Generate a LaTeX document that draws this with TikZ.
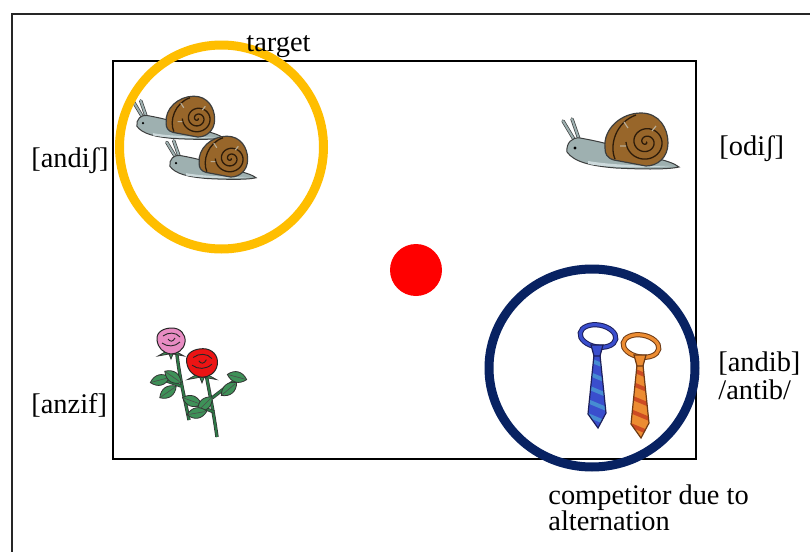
\documentclass[tikz,border=0pt]{standalone}
\usepackage{fontspec}
\setmainfont{Liberation Serif}
\definecolor{ringyellow}{RGB}{255,190,0}
\definecolor{ringnavy}{RGB}{8,34,98}
\definecolor{dotred}{RGB}{255,0,0}
\definecolor{snailbody}{RGB}{158,176,176}
\definecolor{snaillight}{RGB}{205,218,220}
\definecolor{snailout}{RGB}{60,62,62}
\definecolor{shellbrown}{RGB}{152,102,42}
\definecolor{shelldark}{RGB}{45,28,10}
\definecolor{tieblue}{RGB}{58,78,205}
\definecolor{tieblues}{RGB}{70,140,210}
\definecolor{tieblueo}{RGB}{28,30,90}
\definecolor{tieorange}{RGB}{236,140,50}
\definecolor{tieoranges}{RGB}{205,75,35}
\definecolor{tieorangeo}{RGB}{110,58,20}
\definecolor{stemg}{RGB}{45,120,70}
\definecolor{leafg}{RGB}{62,145,88}
\definecolor{rosepink}{RGB}{232,140,195}
\definecolor{rosered}{RGB}{236,20,20}
\tikzset{
  lbl/.style={anchor=base west, inner sep=0pt},
  frameline/.style={line width=0.75pt, black!85},
  ring/.style={line width=4.5pt},
  stemline/.style={line width=1pt, stemg, preaction={draw=black!80, line width=1.7pt}},
  leafstyle/.style={fill=leafg, draw=black!80, line width=0.4pt},
  pics/snail/.style={code={
    \draw[line width=1.7pt, snailout, line cap=round] (-57,-1) -- (-64,-21) (-61,1) -- (-73,-19);
    \draw[line width=1.0pt, snailbody, line cap=round] (-57,-1) -- (-64,-21) (-61,1) -- (-73,-19);
    \filldraw[fill=snailbody, draw=snailout, line width=0.5pt]
      (-69,12) .. controls (-70,3) and (-64,-3) .. (-56,-2)
      .. controls (-45,0) and (-35,2) .. (-25,5) -- (20,18)
      .. controls (30,21) and (38,23) .. (43,27)
      .. controls (30,30) and (0,29) .. (-20,28)
      .. controls (-45,26) and (-62,22) .. (-69,12) -- cycle;
    \fill[snaillight] (-48,21) .. controls (-25,25) and (10,26) .. (36,26)
      .. controls (10,28) and (-25,28) .. (-48,24) -- cycle;
    \fill[black] (-61,8) circle (1.6);
    \filldraw[fill=shellbrown, draw=snailout, line width=0.6pt]
      (-31,8) .. controls (-33,-11) and (-15,-27) .. (5,-27)
      .. controls (23,-27) and (32,-12) .. (32,3)
      .. controls (32,18) and (21,26) .. (10,26) -- (-22,20)
      .. controls (-29,18) and (-31,14) .. (-31,8) -- cycle;
    \draw[shelldark, line width=0.65pt] plot[domain=0:900, samples=90, variable=\t]
      ({10+(\t/900)*20*cos(\t)}, {2+(\t/900)*19*sin(\t)});
    \draw[shelldark, line width=0.65pt] (-21,19) .. controls (-27,5) and (-20,-18) .. (0,-25);
    \draw[snaillight!60!shellbrown, line width=0.6pt] (-12,-18) -- (-8,-12) (20,-14) -- (16,-9) (-16,6) -- (-10,6);
  }},
  pics/tie/.style n args={3}{code={
    \draw[line width=2.6pt, #3, rotate around={-10:(1,-14)}] (1,-14) ellipse (18 and 11);
    \draw[line width=1.6pt, #1, rotate around={-10:(1,-14)}] (1,-14) ellipse (18 and 11);
    \begin{scope}
      \clip (-3,5) -- (3,5) -- (9,63) -- (1,78) -- (-9,64) -- cycle;
      \fill[#1] (-12,0) rectangle (12,80);
      \foreach \s in {8,22,36,50,64} \draw[#2, line width=2pt] (-12,\s) -- (12,\s+10);
    \end{scope}
    \draw[#3, line width=0.6pt] (-3,5) -- (3,5) -- (9,63) -- (1,78) -- (-9,64) -- cycle;
    \filldraw[fill=#1, draw=#3, line width=0.6pt] (-6,-5) -- (6,-5) -- (3,6) -- (-3,6) -- cycle;
  }},
  pics/leaf/.style={code={
    \filldraw[leafstyle] (-10,0) .. controls (-4,-7) and (4,-7) .. (10,0)
      .. controls (4,7) and (-4,7) .. (-10,0) -- cycle;
    \draw[black!70, line width=0.3pt] (-9,0) -- (8,0);
  }},
  pics/rosehead/.style={code={
    \filldraw[fill=leafg, draw=black!80, line width=0.4pt] (-4,10) -- (-13,15) -- (-2,13) -- (0,18) -- (2,13) -- (13,15) -- (4,10) -- cycle;
    \filldraw[fill=#1, draw=black!85, line width=0.5pt]
      (-14,-1) .. controls (-15,-10) and (-6,-13) .. (1,-13)
      .. controls (9,-13) and (15,-7) .. (14,1)
      .. controls (13,9) and (6,13) .. (0,13)
      .. controls (-8,12) and (-13,7) .. (-14,-1) -- cycle;
    \draw[black!85, line width=0.45pt] (-8,-5) .. controls (-3,-9) and (5,-9) .. (9,-4);
    \draw[black!85, line width=0.45pt] (-9,2) .. controls (-4,6) and (4,6) .. (9,1);
    \draw[black!85, line width=0.45pt] (-3,-2) .. controls (-1,1) and (2,1) .. (4,-3);
  }}
}
\begin{document}
\begin{tikzpicture}[x=0.5pt,y=-0.5pt, font=\fontsize{14.2}{17}\selectfont]
\useasboundingbox (0,0) rectangle (810,552);
\clip (0,0) rectangle (810,552);
\fill[white] (0,0) rectangle (810,552);
% frames
\draw[frameline] (12,580) -- (12,14) -- (830,14);
\draw[frameline, black] (113,61) rectangle (696,459);
% snails
\pic[scale=0.77] (snailA) at (190,117) {snail};
\pic[scale=0.77] (snailB) at (223,157) {snail};
\pic (snailC) at (636,140) {snail};
% roses
\draw[stemline] (177,355) .. controls (180,380) and (185,400) .. (189,420);
\draw[stemline] (206,374) .. controls (210,395) and (214,415) .. (217,437);
\draw[stemline] (181,386) -- (164,380);
\draw[stemline] (212,398) -- (234,381);
\draw[stemline] (214,412) -- (194,404);
\pic[rotate=15] at (160,380) {leaf};
\pic[rotate=-35] at (173,377) {leaf};
\pic[rotate=35] at (168,392) {leaf};
\pic[rotate=-15] at (237,377) {leaf};
\pic[rotate=40] at (229,389) {leaf};
\pic[rotate=-20] at (192,401) {leaf};
\pic[rotate=45] at (205,404) {leaf};
\pic[rotate=10] at (197,413) {leaf};
\pic at (171,341) {rosehead=rosepink};
\pic[scale=1.1] at (202,363) {rosehead=rosered};
% ties
\pic at (597,350) {tie={tieblue}{tieblues}{tieblueo}};
\pic at (640,360) {tie={tieorange}{tieoranges}{tieorangeo}};
% rings and dot
\draw[ring, ringyellow] (221.5,147) circle (102);
\draw[ring, ringnavy] (592,368) ellipse (103 and 99);
\fill[dotred] (416,270) circle (26);
% labels
\node[lbl] (target) at (246,51) {target};
\node[lbl] (andish) at (31,167) {[andiʃ]};
\node[lbl] (odish) at (719,155) {[odiʃ]};
\node[lbl] (andib) at (718,371) {[andib]};
\node[lbl] (antib) at (718,399) {/antib/};
\node[lbl] (anzif) at (31,413) {[anzif]};
\node[lbl] (comp1) at (548,504) {competitor due to};
\node[lbl] (comp2) at (548,530) {alternation};
\end{tikzpicture}
\end{document}
